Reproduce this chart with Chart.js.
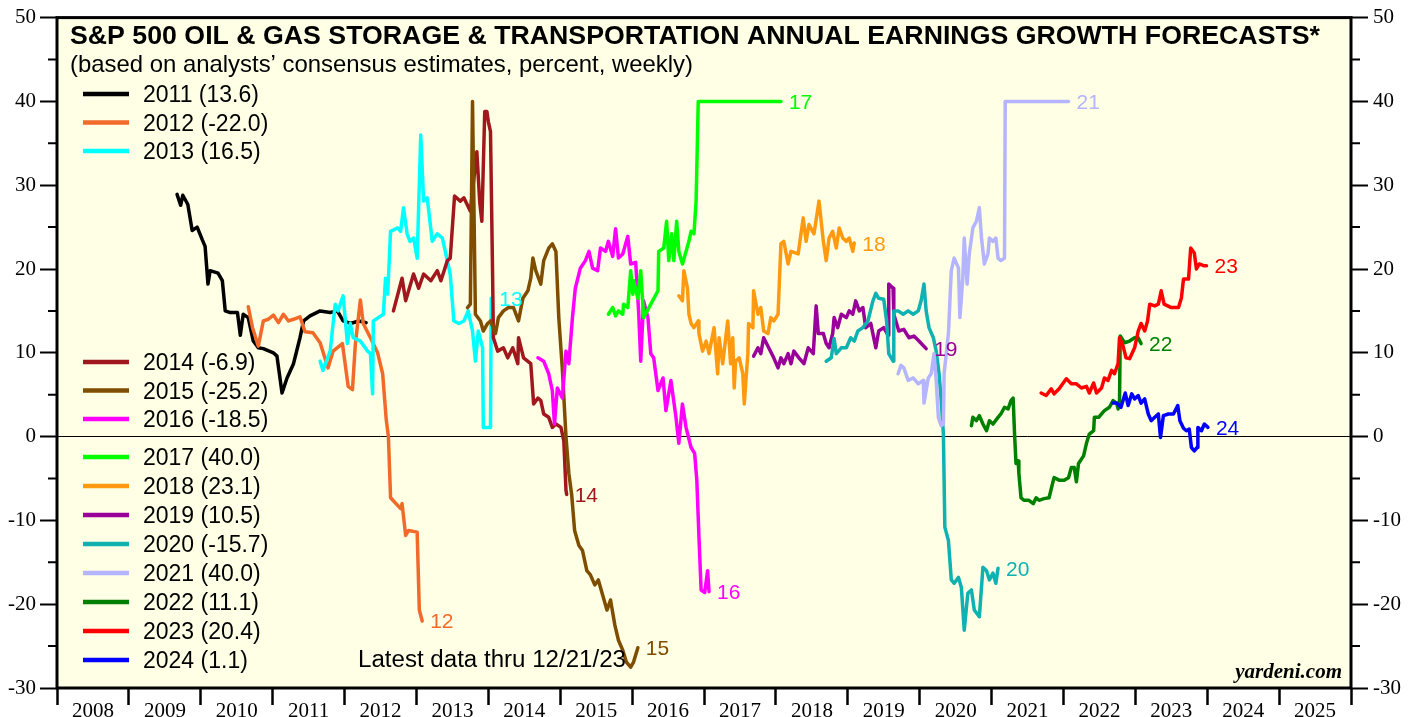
<!DOCTYPE html>
<html>
<head>
<meta charset="utf-8">
<title>S&amp;P 500 Oil &amp; Gas Storage &amp; Transportation Earnings Growth Forecasts</title>
<script src="https://cdn.jsdelivr.net/npm/chart.js@4.4.1/dist/chart.umd.min.js"></script>
<style>
  html, body { margin: 0; padding: 0; background: #fff; }
  #chart { display: block; }
</style>
</head>
<body>
<canvas id="chart" width="1417" height="717"></canvas>
<script>
// ============================================================
// Annual earnings growth forecasts, [year, percent], weekly-ish
// ============================================================

const est2011 = [
  [2009.67, 28.9], [2009.72, 27.6], [2009.75, 28.8], [2009.82, 27.7], [2009.88, 24.6],
  [2009.95, 25.0], [2010.02, 23.5], [2010.06, 22.7], [2010.10, 18.2], [2010.13, 19.8],
  [2010.24, 19.5], [2010.30, 18.6], [2010.34, 15.0], [2010.41, 14.8], [2010.51, 14.8],
  [2010.55, 12.1], [2010.59, 14.6], [2010.66, 14.2], [2010.73, 11.4], [2010.80, 10.6],
  [2010.87, 10.5], [2011.01, 10.0], [2011.06, 9.6], [2011.13, 5.2], [2011.20, 7.0],
  [2011.29, 8.7], [2011.38, 11.8], [2011.43, 13.8], [2011.52, 14.4], [2011.66, 15.0],
  [2011.80, 14.8], [2011.90, 15.0], [2011.98, 13.8], [2012.08, 13.5], [2012.20, 13.8],
  [2012.30, 13.6]
];

const est2012 = [
  [2010.66, 15.5], [2010.72, 13.0], [2010.80, 10.8], [2010.87, 13.8], [2010.94, 14.0],
  [2011.01, 14.5], [2011.08, 13.6], [2011.15, 14.6], [2011.22, 13.8], [2011.29, 14.0],
  [2011.38, 14.3], [2011.45, 12.5], [2011.56, 12.4], [2011.66, 11.2], [2011.77, 8.2],
  [2011.84, 10.2], [2011.97, 11.1], [2012.05, 6.0], [2012.11, 5.6], [2012.15, 11.0],
  [2012.22, 16.3], [2012.26, 13.5], [2012.36, 11.8], [2012.46, 10.0], [2012.53, 7.5],
  [2012.58, 2.0], [2012.61, 0.0], [2012.64, -7.3], [2012.78, -8.6], [2012.80, -8.0],
  [2012.85, -11.8], [2012.89, -11.2], [2013.01, -11.4], [2013.04, -20.7], [2013.08, -22.0]
];

const est2013 = [
  [2011.66, 9.0], [2011.70, 7.9], [2011.80, 10.2], [2011.87, 15.8], [2011.91, 15.0],
  [2011.98, 16.8], [2012.04, 11.1], [2012.08, 13.5], [2012.12, 11.8], [2012.22, 11.4],
  [2012.32, 10.2], [2012.36, 9.9], [2012.39, 5.1], [2012.40, 13.8], [2012.47, 14.2],
  [2012.54, 14.6], [2012.57, 18.9], [2012.60, 17.0], [2012.64, 24.5], [2012.74, 24.9],
  [2012.78, 24.5], [2012.82, 27.3], [2012.87, 24.2], [2012.91, 23.3], [2012.96, 23.7],
  [2013.01, 21.3], [2013.06, 36.0], [2013.10, 28.1], [2013.15, 28.5], [2013.22, 23.3],
  [2013.29, 24.2], [2013.36, 23.7], [2013.43, 21.0], [2013.47, 19.4], [2013.52, 13.8],
  [2013.59, 13.5], [2013.66, 13.8], [2013.72, 15.0], [2013.78, 12.6], [2013.82, 9.0],
  [2013.86, 12.6], [2013.92, 10.6], [2013.93, 1.1], [2014.03, 1.1], [2014.04, 16.5]
];

const est2014 = [
  [2012.68, 15.0], [2012.80, 18.9], [2012.85, 16.2], [2012.96, 19.4], [2013.03, 17.7],
  [2013.10, 19.4], [2013.20, 18.6], [2013.29, 19.8], [2013.34, 18.6], [2013.43, 21.0],
  [2013.47, 21.3], [2013.53, 28.7], [2013.61, 28.1], [2013.66, 28.5], [2013.75, 26.9],
  [2013.84, 34.0], [2013.88, 28.0], [2013.91, 25.7], [2013.95, 38.8], [2013.98, 38.8],
  [2014.00, 37.6], [2014.03, 36.4], [2014.06, 18.9], [2014.07, 11.8], [2014.13, 10.2],
  [2014.21, 10.6], [2014.27, 9.4], [2014.34, 10.6], [2014.41, 8.7], [2014.42, 11.8],
  [2014.49, 9.4], [2014.59, 8.7], [2014.63, 3.9], [2014.69, 4.6], [2014.73, 4.3],
  [2014.77, 2.7], [2014.84, 2.3], [2014.89, 1.1], [2014.94, 1.5], [2015.01, 1.1],
  [2015.05, -0.5], [2015.08, -6.4], [2015.09, -6.9]
];

const est2015 = [
  [2013.71, 15.4], [2013.75, 15.8], [2013.78, 40.0], [2013.82, 14.6], [2013.89, 13.8],
  [2013.93, 12.6], [2013.99, 13.5], [2014.03, 13.8], [2014.10, 12.3], [2014.14, 14.2],
  [2014.21, 15.0], [2014.28, 15.4], [2014.35, 15.4], [2014.42, 13.8], [2014.48, 16.5],
  [2014.55, 17.4], [2014.59, 18.9], [2014.62, 21.3], [2014.66, 19.8], [2014.73, 18.2],
  [2014.77, 21.0], [2014.84, 22.5], [2014.89, 23.0], [2014.94, 22.1], [2014.98, 14.2],
  [2015.03, 8.0], [2015.08, 0.0], [2015.12, -4.4], [2015.16, -7.0], [2015.20, -11.2],
  [2015.26, -13.0], [2015.31, -13.6], [2015.37, -16.0], [2015.42, -16.5], [2015.48, -17.7],
  [2015.53, -17.1], [2015.59, -18.9], [2015.65, -20.7], [2015.70, -19.5], [2015.76, -22.5],
  [2015.81, -24.3], [2015.87, -25.5], [2015.92, -26.9], [2015.98, -27.5], [2016.02, -26.9],
  [2016.08, -25.2]
];

const est2016 = [
  [2014.69, 9.4], [2014.77, 9.0], [2014.84, 7.5], [2014.89, 5.5], [2014.92, 1.5],
  [2014.96, 5.8], [2015.03, 4.6], [2015.08, 10.2], [2015.12, 8.7], [2015.17, 14.2],
  [2015.21, 17.7], [2015.28, 20.1], [2015.35, 21.0], [2015.40, 22.1], [2015.45, 20.1],
  [2015.52, 19.8], [2015.56, 22.5], [2015.63, 22.1], [2015.67, 23.3], [2015.73, 21.5],
  [2015.77, 24.8], [2015.81, 21.3], [2015.87, 21.8], [2015.94, 23.9], [2015.98, 20.6],
  [2016.05, 20.8], [2016.09, 15.0], [2016.12, 9.0], [2016.16, 16.2], [2016.22, 14.2],
  [2016.26, 9.9], [2016.30, 9.4], [2016.36, 5.5], [2016.43, 7.0], [2016.47, 3.1],
  [2016.54, 6.7], [2016.61, 2.3], [2016.65, -0.8], [2016.70, 3.9], [2016.75, 1.1],
  [2016.82, -1.3], [2016.87, -2.0], [2016.90, -5.2], [2016.93, -12.0], [2016.96, -18.3],
  [2017.01, -18.6], [2017.05, -16.0], [2017.07, -18.5]
];

const est2017 = [
  [2015.67, 14.6], [2015.73, 15.4], [2015.77, 14.4], [2015.81, 15.0], [2015.87, 14.6],
  [2015.88, 15.8], [2015.94, 15.4], [2015.98, 19.8], [2016.01, 17.0], [2016.02, 18.6],
  [2016.08, 16.5], [2016.12, 19.8], [2016.16, 14.2], [2016.26, 15.8], [2016.36, 17.4],
  [2016.37, 22.1], [2016.44, 22.5], [2016.48, 25.7], [2016.51, 21.0], [2016.55, 24.2],
  [2016.58, 21.0], [2016.62, 25.7], [2016.65, 22.1], [2016.70, 20.6], [2016.75, 22.1],
  [2016.79, 23.3], [2016.82, 24.5], [2016.86, 24.2], [2016.89, 28.1], [2016.92, 40.0],
  [2018.07, 40.0]
];

const est2018 = [
  [2016.65, 16.8], [2016.70, 16.2], [2016.72, 19.8], [2016.77, 17.7], [2016.79, 14.6],
  [2016.82, 13.5], [2016.86, 13.0], [2016.92, 13.8], [2016.93, 12.3], [2016.98, 10.2],
  [2017.03, 11.4], [2017.07, 9.9], [2017.14, 13.0], [2017.19, 7.5], [2017.21, 11.8],
  [2017.26, 8.7], [2017.33, 13.8], [2017.37, 8.7], [2017.40, 11.8], [2017.42, 5.8],
  [2017.44, 9.0], [2017.49, 9.4], [2017.54, 7.5], [2017.56, 3.9], [2017.61, 9.9],
  [2017.62, 13.5], [2017.68, 13.0], [2017.69, 17.4], [2017.75, 14.6], [2017.79, 15.4],
  [2017.83, 12.6], [2017.89, 12.3], [2017.93, 14.2], [2017.97, 13.8], [2018.03, 14.6],
  [2018.07, 23.0], [2018.11, 23.3], [2018.17, 20.6], [2018.21, 22.1], [2018.31, 21.8],
  [2018.38, 26.1], [2018.42, 23.3], [2018.46, 25.3], [2018.53, 24.2], [2018.60, 28.1],
  [2018.66, 23.3], [2018.70, 21.0], [2018.74, 23.7], [2018.79, 24.5], [2018.84, 22.5],
  [2018.88, 24.9], [2018.93, 23.7], [2018.98, 23.3], [2019.02, 23.7], [2019.07, 22.1],
  [2019.09, 23.1]
];

const est2019 = [
  [2017.69, 9.6], [2017.75, 10.6], [2017.79, 9.9], [2017.83, 11.8], [2017.90, 10.6],
  [2017.97, 9.4], [2018.03, 8.2], [2018.07, 9.4], [2018.11, 8.7], [2018.17, 9.9],
  [2018.21, 8.7], [2018.25, 10.2], [2018.32, 9.4], [2018.39, 8.7], [2018.45, 10.6],
  [2018.52, 9.9], [2018.56, 15.6], [2018.59, 12.3], [2018.66, 12.3], [2018.70, 11.1],
  [2018.74, 10.6], [2018.79, 12.3], [2018.81, 14.2], [2018.86, 13.0], [2018.91, 14.6],
  [2018.98, 14.2], [2019.02, 15.0], [2019.07, 14.6], [2019.11, 16.2], [2019.16, 15.0],
  [2019.21, 15.4], [2019.25, 13.0], [2019.32, 13.5], [2019.39, 10.6], [2019.43, 12.6],
  [2019.50, 13.0], [2019.56, 12.1], [2019.57, 18.2], [2019.63, 17.7], [2019.64, 14.6],
  [2019.71, 12.6], [2019.78, 12.8], [2019.85, 11.8], [2019.92, 12.0], [2019.99, 11.4],
  [2020.09, 10.5]
];

const est2020 = [
  [2018.70, 9.0], [2018.77, 9.4], [2018.81, 11.7], [2018.84, 9.9], [2018.91, 10.6],
  [2018.98, 10.6], [2019.04, 11.8], [2019.09, 11.4], [2019.14, 12.6], [2019.21, 13.0],
  [2019.28, 13.8], [2019.35, 16.2], [2019.39, 17.1], [2019.43, 16.5], [2019.50, 16.4],
  [2019.54, 13.8], [2019.57, 9.9], [2019.63, 9.0], [2019.64, 15.0], [2019.70, 15.0],
  [2019.77, 14.6], [2019.84, 15.0], [2019.91, 14.6], [2019.98, 15.0], [2020.02, 16.2],
  [2020.06, 18.2], [2020.09, 15.0], [2020.13, 13.0], [2020.19, 11.8], [2020.23, 10.2],
  [2020.27, 7.5], [2020.30, 4.3], [2020.33, 0.3], [2020.35, -10.8], [2020.40, -12.4],
  [2020.44, -17.1], [2020.48, -17.5], [2020.54, -16.8], [2020.58, -18.0], [2020.62, -23.1],
  [2020.67, -18.7], [2020.72, -18.3], [2020.76, -20.7], [2020.83, -21.5], [2020.88, -15.6],
  [2020.93, -16.0], [2020.97, -17.1], [2021.02, -16.3], [2021.06, -17.5], [2021.09, -15.7]
];

const est2021 = [
  [2019.70, 7.5], [2019.74, 8.5], [2019.78, 8.2], [2019.84, 6.7], [2019.91, 7.0],
  [2019.98, 6.3], [2020.05, 6.7], [2020.06, 4.0], [2020.12, 7.0], [2020.16, 7.5],
  [2020.20, 9.9], [2020.23, 6.7], [2020.26, 2.3], [2020.30, 1.3], [2020.33, 1.5],
  [2020.34, 7.5], [2020.40, 12.3], [2020.44, 19.8], [2020.48, 21.3], [2020.54, 20.1],
  [2020.56, 14.2], [2020.60, 18.9], [2020.62, 23.7], [2020.66, 18.2], [2020.69, 21.8],
  [2020.74, 24.9], [2020.79, 25.7], [2020.83, 27.3], [2020.86, 23.7], [2020.90, 20.6],
  [2020.95, 21.8], [2020.97, 23.7], [2021.02, 23.3], [2021.06, 23.7], [2021.09, 21.3],
  [2021.13, 21.0], [2021.18, 21.3], [2021.19, 40.0], [2022.07, 40.0]
];

const est2022 = [
  [2020.72, 1.3], [2020.74, 2.3], [2020.79, 1.9], [2020.83, 2.5], [2020.88, 1.5],
  [2020.93, 0.7], [2020.97, 1.9], [2021.02, 1.5], [2021.09, 2.3], [2021.13, 2.7],
  [2021.18, 3.5], [2021.23, 3.3], [2021.27, 4.3], [2021.30, 4.6], [2021.32, 0.3],
  [2021.34, -3.2], [2021.37, -2.9], [2021.38, -4.4], [2021.41, -7.3], [2021.45, -7.6],
  [2021.52, -7.6], [2021.58, -8.0], [2021.62, -7.3], [2021.66, -7.6], [2021.73, -7.4],
  [2021.80, -7.3], [2021.86, -5.2], [2021.87, -4.9], [2021.94, -5.2], [2022.01, -5.2],
  [2022.07, -4.9], [2022.11, -3.7], [2022.15, -3.7], [2022.18, -5.4], [2022.21, -3.2],
  [2022.28, -2.3], [2022.32, -0.8], [2022.36, 0.3], [2022.42, 0.7], [2022.43, 2.3],
  [2022.49, 2.3], [2022.53, 2.7], [2022.57, 3.1], [2022.64, 3.5], [2022.69, 4.3],
  [2022.74, 4.0], [2022.76, 3.3], [2022.78, 4.3], [2022.79, 12.0], [2022.85, 11.2],
  [2022.92, 11.4], [2022.99, 11.8], [2023.04, 11.8], [2023.08, 11.1]
];

const est2023 = [
  [2021.69, 5.2], [2021.76, 4.9], [2021.83, 5.7], [2021.87, 5.1], [2021.94, 5.7],
  [2022.04, 6.9], [2022.11, 6.3], [2022.18, 6.3], [2022.25, 5.8], [2022.32, 6.0],
  [2022.36, 5.2], [2022.42, 6.4], [2022.46, 5.2], [2022.53, 5.8], [2022.57, 7.0],
  [2022.62, 6.7], [2022.67, 7.9], [2022.71, 7.5], [2022.76, 8.7], [2022.78, 11.8],
  [2022.83, 10.8], [2022.87, 9.4], [2022.92, 9.3], [2022.99, 10.6], [2023.04, 12.6],
  [2023.08, 13.5], [2023.13, 12.6], [2023.17, 13.8], [2023.20, 15.8], [2023.27, 15.6],
  [2023.32, 15.8], [2023.36, 17.4], [2023.40, 15.8], [2023.50, 15.4], [2023.60, 15.4],
  [2023.64, 16.5], [2023.67, 18.8], [2023.74, 18.8], [2023.77, 22.5], [2023.82, 21.9],
  [2023.85, 20.0], [2023.89, 20.6], [2023.95, 20.4], [2023.99, 20.4]
];

const est2024 = [
  [2022.69, 4.0], [2022.74, 4.0], [2022.80, 3.5], [2022.86, 5.2], [2022.90, 3.7],
  [2022.95, 5.1], [2022.99, 4.5], [2023.04, 4.9], [2023.08, 4.0], [2023.13, 4.5],
  [2023.18, 2.7], [2023.22, 1.9], [2023.27, 2.3], [2023.32, 2.7], [2023.35, -0.1],
  [2023.39, 2.5], [2023.46, 2.7], [2023.53, 2.7], [2023.59, 3.7], [2023.62, 1.9],
  [2023.67, 1.0], [2023.71, 0.7], [2023.75, 0.9], [2023.78, -1.3], [2023.82, -1.7],
  [2023.86, -1.3], [2023.87, 1.1], [2023.92, 0.7], [2023.96, 1.5], [2024.01, 1.1]
];

const seriesNames = ['2011', '2012', '2013', '2014', '2015', '2016', '2017',
                     '2018', '2019', '2020', '2021', '2022', '2023', '2024'];
const seriesData = [est2011, est2012, est2013, est2014, est2015, est2016, est2017,
                    est2018, est2019, est2020, est2021, est2022, est2023, est2024];
const seriesColors = ['#000000', '#f26a2a', '#00ffff', '#a0181e', '#7f4d00', '#ff00ff', '#00ff00',
                      '#ff990f', '#990099', '#0fb1b1', '#b4b4ff', '#008000', '#ff0000', '#0000ff'];
const endTags = [null, '12', '13', '14', '15', '16', '17', '18', '19', '20', '21', '22', '23', '24'];

const yearTicks = [2008, 2009, 2010, 2011, 2012, 2013, 2014, 2015, 2016,
                   2017, 2018, 2019, 2020, 2021, 2022, 2023, 2024, 2025, 2026];
const yTicks = [-30, -20, -10, 0, 10, 20, 30, 40, 50];
const yMinorTicks = [-25, -15, -5, 5, 15, 25, 35, 45];

const titleText = 'S&P 500 OIL & GAS STORAGE & TRANSPORTATION ANNUAL EARNINGS GROWTH FORECASTS*';
const subtitleText = '(based on analysts\u2019 consensus estimates, percent, weekly)';
const noteText = 'Latest data thru 12/21/23';
const sourceText = 'yardeni.com';

// ------------------------------------------------------------

const SANS = "'Liberation Sans', Arial, sans-serif";
const SERIF = "'Liberation Serif', 'Times New Roman', serif";
const PLOT_BG = '#ffffe5';

function drawText(ctx, text, x, y, font, color, opts = {}) {
  ctx.save();
  ctx.font = font;
  ctx.fillStyle = color;
  ctx.textAlign = opts.align || 'left';
  ctx.textBaseline = 'alphabetic';
  const sx = opts.width ? opts.width / ctx.measureText(text).width : 1;
  ctx.translate(x, y);
  ctx.scale(sx, 1);
  ctx.fillText(text, 0, 0);
  ctx.restore();
}

// legend rows: three at the top, the rest lower down on the left
const legendRowY = [94, 122.5, 151, 362, 390.5, 419, 457, 486, 515, 544, 573, 602, 631, 660];

const decor = {
  id: 'decor',
  beforeDraw(chart) {
    const { ctx, chartArea: a } = chart;
    ctx.save();
    ctx.fillStyle = '#ffffff';
    ctx.fillRect(0, 0, chart.width, chart.height);
    ctx.fillStyle = PLOT_BG;
    ctx.fillRect(a.left, a.top, a.right - a.left, a.bottom - a.top);
    ctx.restore();
  },

  afterDatasetsDraw(chart) {
    const { ctx } = chart;

    // end-of-line year tags
    chart.data.datasets.forEach((ds, i) => {
      if (!endTags[i]) return;
      const pts = chart.getDatasetMeta(i).data;
      const p = pts[pts.length - 1];
      drawText(ctx, endTags[i], p.x + 8, p.y + 7.5, `21px ${SANS}`, ds.borderColor);
    });

    // titles
    drawText(ctx, titleText, 70, 44, `bold 25px ${SANS}`, '#000', { width: 1250 });
    drawText(ctx, subtitleText, 70, 72, `24px ${SANS}`, '#000', { width: 623 });

    // legend
    chart.data.datasets.forEach((ds, i) => {
      const y = legendRowY[i];
      ctx.save();
      ctx.strokeStyle = ds.borderColor;
      ctx.lineWidth = 4.5;
      ctx.beginPath();
      ctx.moveTo(83, y);
      ctx.lineTo(129, y);
      ctx.stroke();
      ctx.restore();
      drawText(ctx, ds.label, 143, y + 8, `23px ${SANS}`, '#000');
    });

    drawText(ctx, noteText, 358, 667, `23px ${SANS}`, '#000', { width: 268 });
    drawText(ctx, sourceText, 1342, 678, `italic bold 21px ${SERIF}`, '#000', { align: 'right' });
  },

  afterDraw(chart) {
    const { ctx, chartArea: a } = chart;
    const ys = chart.scales.y;
    ctx.save();
    ctx.strokeStyle = '#000';
    ctx.lineWidth = 2;
    yMinorTicks.forEach(v => {
      const py = ys.getPixelForValue(v);
      ctx.beginPath();
      ctx.moveTo(a.left - 9, py);
      ctx.lineTo(a.left, py);
      ctx.moveTo(a.right, py);
      ctx.lineTo(a.right + 9, py);
      ctx.stroke();
    });
    ctx.lineWidth = 3;
    ctx.strokeRect(a.left, a.top, a.right - a.left, a.bottom - a.top);
    ctx.restore();
  }
};

const datasets = seriesData.map((rows, i) => {
  const last = rows[rows.length - 1][1];
  return {
    label: `${seriesNames[i]} (${last.toFixed(1)})`,
    data: rows.map(r => ({ x: r[0], y: r[1] })),
    borderColor: seriesColors[i],
    backgroundColor: seriesColors[i],
    borderWidth: 3.5,
    pointRadius: 0,
    tension: 0,
    fill: false,
    borderJoinStyle: 'round',
    borderCapStyle: 'round',
    order: seriesData.length - i,
  };
});

const yAxis = (position, width, pad) => ({
  type: 'linear',
  position,
  min: -30,
  max: 50,
  afterBuildTicks: (s) => { s.ticks = yTicks.map(v => ({ value: v })); },
  afterFit: (s) => { s.width = width; },
  ticks: {
    padding: pad,
    color: '#000',
    font: { family: SERIF, size: 21 },
  },
  grid: {
    drawOnChartArea: position === 'left',
    color: (c) => (c.tick && c.tick.value === 0 ? '#000' : 'rgba(0,0,0,0)'),
    lineWidth: 1,
    tickColor: '#000',
    tickWidth: 2,
    tickLength: 17,
  },
  border: { display: false },
});

new Chart(document.getElementById('chart'), {
  type: 'line',
  data: { datasets },
  options: {
    responsive: false,
    animation: false,
    events: [],
    layout: { padding: { top: 16, left: 0, right: 0, bottom: 0 } },
    plugins: {
      legend: { display: false },
      tooltip: { enabled: false },
    },
    scales: {
      x: {
        type: 'linear',
        min: 2008,
        max: 2026,
        afterBuildTicks: (s) => { s.ticks = yearTicks.map(v => ({ value: v })); },
        afterFit: (s) => { s.height = 29; },
        ticks: {
          autoSkip: false,
          maxRotation: 0,
          labelOffset: 36,
          padding: -6,
          color: '#000',
          font: { family: SERIF, size: 21 },
          callback: (v) => (v < 2026 ? String(v) : ''),
        },
        grid: {
          drawOnChartArea: false,
          color: '#000',
          tickColor: '#000',
          tickWidth: 2.5,
          tickLength: 17,
        },
        border: { display: false },
      },
      y: yAxis('left', 57, 4),
      y2: yAxis('right', 66, 5),
    },
  },
  plugins: [decor],
});
</script>
</body>
</html>
